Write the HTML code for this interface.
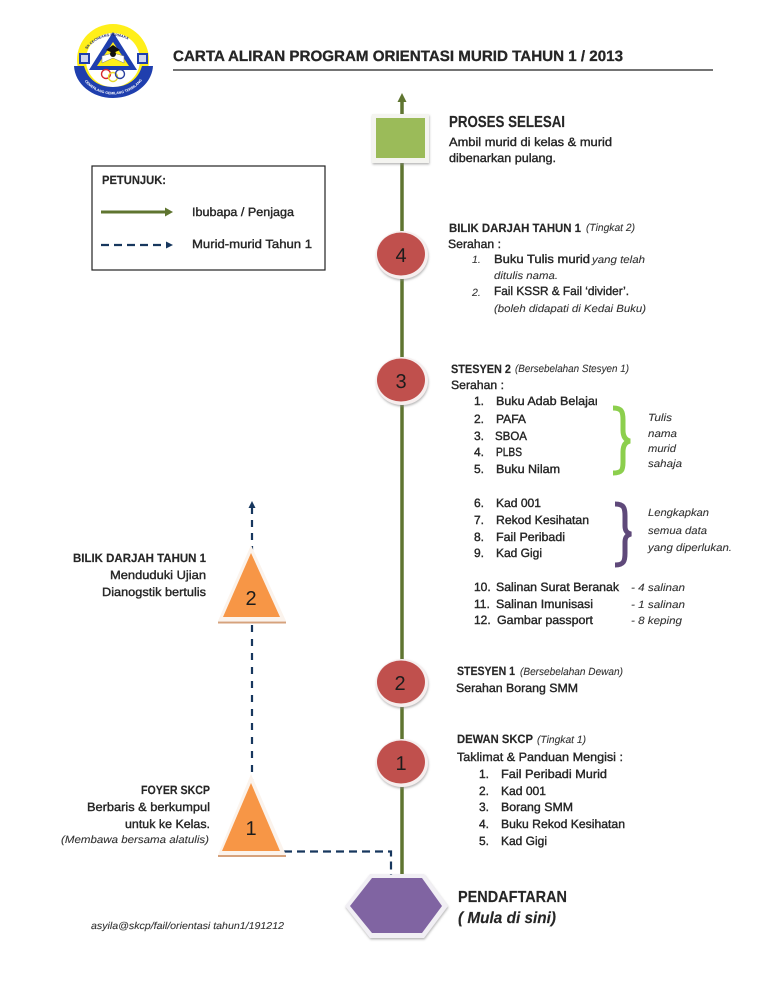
<!DOCTYPE html>
<html lang="ms">
<head>
<meta charset="utf-8">
<title>Carta Aliran Program Orientasi Murid Tahun 1 / 2013</title>
<style>
html,body{margin:0;padding:0;background:#fff;width:768px;height:994px;overflow:hidden}
svg{display:block;filter:blur(.3px)}
text{font-family:"Liberation Sans",sans-serif;fill:#262626;text-rendering:geometricPrecision}
.n{font-size:12px;stroke:#262626;stroke-width:.38px}
.b{font-size:12px;font-weight:bold;stroke:#262626;stroke-width:.15px}
.i{font-size:10.5px;font-style:italic;fill:#333;stroke:#333;stroke-width:.1px}
.h{font-size:16px;font-weight:bold;stroke:#262626;stroke-width:.15px}
.d{font-size:20px;text-anchor:middle;fill:#1c1c1c}
</style>
</head>
<body>
<svg width="768" height="994" viewBox="0 0 768 994" xmlns="http://www.w3.org/2000/svg">
<defs>
<filter id="sh" x="-20%" y="-20%" width="140%" height="140%"><feDropShadow dx="0.5" dy="1.5" stdDeviation="1" flood-color="#888" flood-opacity=".6"/></filter>
<path id="ltop" d="M82 60A32 32 0 0 1 144 60"/>
<path id="lbot" d="M79 70A35 32 0 0 0 147 70"/>
</defs>
<rect width="768" height="994" fill="#fff"/>

<!-- logo -->
<circle cx="113" cy="60" r="36" fill="#ffef1a"/>
<circle cx="113" cy="60" r="27" fill="#fff"/>
<path d="M74 66L84 66C88 80 99 87 113 87C127 87 138 80 142 66L153 66C152 84 134 98 113 98C92 98 75 84 74 66Z" fill="#1f3fae"/>
<rect x="79" y="53" width="11" height="11" fill="#1f3fae"/>
<rect x="137" y="53" width="11" height="11" fill="#1f3fae"/>
<rect x="81" y="55" width="7" height="7" fill="#cfd6ef"/>
<rect x="139" y="55" width="7" height="7" fill="#cfd6ef"/>
<polygon points="113,32 137,70 89,70" fill="#1f3fae"/>
<polygon points="113,42 129,66 97,66" fill="#ffef1a"/>
<path d="M102 63L113 58L124 63L124 56L113 53L102 56Z" fill="#fff" stroke="#777" stroke-width=".5"/>
<polygon points="113,45 120,50 113,53 106,50" fill="#111"/>
<circle cx="113" cy="54" r="3" fill="#111"/>
<circle cx="106" cy="74" r="4.5" fill="none" stroke="#d8272d" stroke-width="1.4"/>
<circle cx="113" cy="77" r="4.5" fill="none" stroke="#e8d92a" stroke-width="1.4"/>
<circle cx="120" cy="74" r="4.5" fill="none" stroke="#2a3f9f" stroke-width="1.4"/>
<text font-size="3.6" font-weight="bold" style="fill:#1f2a70"><textPath href="#ltop" startOffset="14%">SK CECHEANG PERMAKA</textPath></text>
<text font-size="3.6" font-weight="bold" style="fill:#fff"><textPath href="#lbot" startOffset="14%">CEMERLANG GEMILANG TERBILANG</textPath></text>

<!-- title -->
<text x="173" y="61" class="b" style="font-size:15px;stroke-width:.3px" textLength="450" lengthAdjust="spacingAndGlyphs">CARTA ALIRAN PROGRAM ORIENTASI MURID TAHUN 1 / 2013</text>
<line x1="173" y1="70" x2="713" y2="70" stroke="#222" stroke-width="1.2"/>

<!-- legend -->
<rect x="92" y="166" width="233" height="104" fill="#fff" stroke="#222" stroke-width="1.2"/>
<text x="102" y="184" class="b" textLength="64" lengthAdjust="spacingAndGlyphs">PETUNJUK:</text>
<line x1="101" y1="212" x2="166" y2="212" stroke="#5f7530" stroke-width="3"/>
<polygon points="165,207.500 173,212 165,216.500" fill="#5f7530"/>
<text x="192" y="216" class="n" textLength="102" lengthAdjust="spacingAndGlyphs">Ibubapa / Penjaga</text>
<line x1="101" y1="245" x2="162" y2="245" stroke="#17375e" stroke-width="2.2" stroke-dasharray="8 5"/>
<polygon points="166,241.500 173,245 166,248.500" fill="#17375e"/>
<text x="192" y="248" class="n" textLength="120" lengthAdjust="spacingAndGlyphs">Murid-murid Tahun 1</text>

<!-- main line -->
<line x1="402" y1="100" x2="402" y2="880" stroke="#5f7530" stroke-width="3.500"/>
<polygon points="402,93 406.500,102 397.500,102" fill="#5f7530"/>

<!-- square -->
<rect x="372" y="114" width="57" height="49" fill="#f4f4f0" filter="url(#sh)"/>
<rect x="376" y="118" width="49" height="40" fill="#9bbb59"/>

<!-- circles -->
<g filter="url(#sh)">
<ellipse cx="402" cy="255" rx="26" ry="24" fill="#f6eeee"/>
<ellipse cx="402" cy="381" rx="26" ry="24" fill="#f6eeee"/>
<ellipse cx="402" cy="683" rx="26" ry="24" fill="#f6eeee"/>
<ellipse cx="402" cy="763" rx="26" ry="24" fill="#f6eeee"/>
</g>
<ellipse cx="401" cy="254" rx="24" ry="21.500" fill="#c0504d"/>
<ellipse cx="401" cy="380" rx="24" ry="21.500" fill="#c0504d"/>
<ellipse cx="401" cy="682" rx="24" ry="21.500" fill="#c0504d"/>
<ellipse cx="401" cy="762" rx="24" ry="21.500" fill="#c0504d"/>
<text x="401" y="262" class="d">4</text>
<text x="401" y="388" class="d">3</text>
<text x="400" y="690" class="d">2</text>
<text x="401" y="770" class="d">1</text>

<!-- hexagon -->
<polygon points="345,906 370,874 424,874 448,906 424,938 370,938" fill="#f1eff4" filter="url(#sh)"/>
<polygon points="350,906 372,878 422,878 442,906 422,933 372,933" fill="#8064a2"/>

<!-- dashed flow -->
<line x1="252" y1="507" x2="252" y2="553" stroke="#17375e" stroke-width="2.2" stroke-dasharray="7 6"/>
<polygon points="252,501 255.500,508 248.500,508" fill="#17375e"/>
<line x1="252" y1="625" x2="252" y2="780" stroke="#17375e" stroke-width="2.2" stroke-dasharray="7 7"/>
<path d="M284 851.500H391V875" fill="none" stroke="#17375e" stroke-width="2.2" stroke-dasharray="8 5"/>

<!-- triangles -->
<polygon points="251,545 218,621 286,621" fill="#fbf3ec"/>
<polygon points="251,553 223,617 280,617" fill="#f79646"/>
<line x1="218" y1="622.500" x2="286" y2="622.500" stroke="#d6a27c" stroke-width="2"/>
<text x="251" y="605" class="d">2</text>
<polygon points="251,774 218,855 286,855" fill="#fbf3ec"/>
<polygon points="251,783 222,851 280,851" fill="#f79646"/>
<line x1="218" y1="856" x2="286" y2="856" stroke="#d6a27c" stroke-width="2"/>
<text x="251" y="835" class="d">1</text>

<!-- braces -->
<path d="M613 408C622 408 623 412 623 420V430C623 436 625 440 630 441C625 442 623 446 623 452V462C623 470 622 473 613 473" fill="none" stroke="#8ccf4d" stroke-width="5"/>
<path d="M615 504C624 504 625 508 625 516V526C625 531 627 533 631 534C627 535 625 537 625 542V553C625 561 624 565 615 565" fill="none" stroke="#5f497a" stroke-width="5"/>

<!-- right column top -->
<text x="449" y="127" class="h" textLength="116" lengthAdjust="spacingAndGlyphs">PROSES SELESAI</text>
<text x="449" y="146" class="n" textLength="163" lengthAdjust="spacingAndGlyphs">Ambil murid di kelas &amp; murid</text>
<text x="449" y="162" class="n" textLength="107" lengthAdjust="spacingAndGlyphs">dibenarkan pulang.</text>

<text x="449" y="232" class="b" textLength="132" lengthAdjust="spacingAndGlyphs">BILIK DARJAH TAHUN 1</text>
<text x="586" y="231" class="i" textLength="49" lengthAdjust="spacingAndGlyphs">(Tingkat 2)</text>
<text x="448" y="248" class="n" textLength="53" lengthAdjust="spacingAndGlyphs">Serahan :</text>
<text x="472" y="263" class="i">1.</text>
<text x="494" y="263" class="n" textLength="96" lengthAdjust="spacingAndGlyphs">Buku Tulis murid</text>
<text x="592" y="263" class="i" textLength="53" lengthAdjust="spacingAndGlyphs">yang telah</text>
<text x="494" y="279" class="i" textLength="64" lengthAdjust="spacingAndGlyphs">ditulis nama.</text>
<text x="472" y="296" class="i">2.</text>
<text x="494" y="295" class="n" textLength="135" lengthAdjust="spacingAndGlyphs">Fail KSSR &amp; Fail ‘divider’.</text>
<text x="494" y="312" class="i" textLength="152" lengthAdjust="spacingAndGlyphs">(boleh didapati di Kedai Buku)</text>

<!-- stesyen 2 -->
<text x="451" y="373" class="b" textLength="60" lengthAdjust="spacingAndGlyphs">STESYEN 2</text>
<text x="515" y="372" class="i" textLength="114" lengthAdjust="spacingAndGlyphs">(Bersebelahan Stesyen 1)</text>
<text x="451" y="389" class="n" textLength="53" lengthAdjust="spacingAndGlyphs">Serahan :</text>
<text x="474" y="405" class="n">1.</text>
<text x="496" y="405" class="n" textLength="103" lengthAdjust="spacingAndGlyphs">Buku Adab Belajar</text>
<rect x="597" y="394" width="6" height="14" fill="#fff"/>
<text x="474" y="423" class="n">2.</text>
<text x="496" y="423" class="n" textLength="30" lengthAdjust="spacingAndGlyphs">PAFA</text>
<text x="474" y="440" class="n">3.</text>
<text x="495" y="440" class="n" textLength="32" lengthAdjust="spacingAndGlyphs">SBOA</text>
<text x="474" y="456" class="n">4.</text>
<text x="496" y="456" class="n" textLength="26" lengthAdjust="spacingAndGlyphs">PLBS</text>
<text x="474" y="473" class="n">5.</text>
<text x="496" y="473" class="n" textLength="64" lengthAdjust="spacingAndGlyphs">Buku Nilam</text>
<text x="474" y="507" class="n">6.</text>
<text x="496" y="507" class="n" textLength="45" lengthAdjust="spacingAndGlyphs">Kad 001</text>
<text x="474" y="524" class="n">7.</text>
<text x="496" y="524" class="n" textLength="93" lengthAdjust="spacingAndGlyphs">Rekod Kesihatan</text>
<text x="474" y="541" class="n">8.</text>
<text x="496" y="541" class="n" textLength="69" lengthAdjust="spacingAndGlyphs">Fail Peribadi</text>
<text x="474" y="557" class="n">9.</text>
<text x="496" y="557" class="n" textLength="46" lengthAdjust="spacingAndGlyphs">Kad Gigi</text>
<text x="474" y="591" class="n">10.</text>
<text x="496" y="591" class="n" textLength="123" lengthAdjust="spacingAndGlyphs">Salinan Surat Beranak</text>
<text x="474" y="608" class="n">11.</text>
<text x="496" y="608" class="n" textLength="97" lengthAdjust="spacingAndGlyphs">Salinan Imunisasi</text>
<text x="474" y="624" class="n">12.</text>
<text x="497" y="624" class="n" textLength="96" lengthAdjust="spacingAndGlyphs">Gambar passport</text>
<text x="631" y="591" class="i" textLength="54" lengthAdjust="spacingAndGlyphs">- 4 salinan</text>
<text x="631" y="608" class="i" textLength="54" lengthAdjust="spacingAndGlyphs">- 1 salinan</text>
<text x="631" y="624" class="i" textLength="51" lengthAdjust="spacingAndGlyphs">- 8 keping</text>
<text x="648" y="421" class="i" textLength="24" lengthAdjust="spacingAndGlyphs">Tulis</text>
<text x="648" y="437" class="i" textLength="29" lengthAdjust="spacingAndGlyphs">nama</text>
<text x="648" y="452" class="i" textLength="28" lengthAdjust="spacingAndGlyphs">murid</text>
<text x="648" y="467" class="i" textLength="34" lengthAdjust="spacingAndGlyphs">sahaja</text>
<text x="648" y="516" class="i" textLength="61" lengthAdjust="spacingAndGlyphs">Lengkapkan</text>
<text x="648" y="534" class="i" textLength="59" lengthAdjust="spacingAndGlyphs">semua data</text>
<text x="648" y="551" class="i" textLength="84" lengthAdjust="spacingAndGlyphs">yang diperlukan.</text>

<!-- stesyen 1 -->
<text x="457" y="675" class="b" textLength="58" lengthAdjust="spacingAndGlyphs">STESYEN 1</text>
<text x="520" y="675" class="i" textLength="103" lengthAdjust="spacingAndGlyphs">(Bersebelahan Dewan)</text>
<text x="456" y="692" class="n" textLength="122" lengthAdjust="spacingAndGlyphs">Serahan Borang SMM</text>

<!-- dewan -->
<text x="457" y="743" class="b" textLength="76" lengthAdjust="spacingAndGlyphs">DEWAN SKCP</text>
<text x="537" y="743" class="i" textLength="49" lengthAdjust="spacingAndGlyphs">(Tingkat 1)</text>
<text x="457" y="761" class="n" textLength="166" lengthAdjust="spacingAndGlyphs">Taklimat &amp; Panduan Mengisi :</text>
<text x="479" y="778" class="n">1.</text>
<text x="501" y="778" class="n" textLength="106" lengthAdjust="spacingAndGlyphs">Fail Peribadi Murid</text>
<text x="479" y="795" class="n">2.</text>
<text x="501" y="795" class="n" textLength="45" lengthAdjust="spacingAndGlyphs">Kad 001</text>
<text x="479" y="811" class="n">3.</text>
<text x="501" y="811" class="n" textLength="72" lengthAdjust="spacingAndGlyphs">Borang SMM</text>
<text x="479" y="828" class="n">4.</text>
<text x="501" y="828" class="n" textLength="124" lengthAdjust="spacingAndGlyphs">Buku Rekod Kesihatan</text>
<text x="479" y="845" class="n">5.</text>
<text x="501" y="845" class="n" textLength="46" lengthAdjust="spacingAndGlyphs">Kad Gigi</text>

<text x="458" y="902" class="h" textLength="109" lengthAdjust="spacingAndGlyphs">PENDAFTARAN</text>
<text x="458" y="923" class="h" style="font-style:italic" textLength="98" lengthAdjust="spacingAndGlyphs">( Mula di sini)</text>

<!-- left labels -->
<text x="73" y="562" class="b" textLength="133" lengthAdjust="spacingAndGlyphs">BILIK DARJAH TAHUN 1</text>
<text x="110" y="579" class="n" textLength="96" lengthAdjust="spacingAndGlyphs">Menduduki Ujian</text>
<text x="102" y="596" class="n" textLength="104" lengthAdjust="spacingAndGlyphs">Dianogstik bertulis</text>
<text x="141" y="794" class="b" textLength="69" lengthAdjust="spacingAndGlyphs">FOYER SKCP</text>
<text x="87" y="811" class="n" textLength="123" lengthAdjust="spacingAndGlyphs">Berbaris &amp; berkumpul</text>
<text x="125" y="828" class="n" textLength="85" lengthAdjust="spacingAndGlyphs">untuk ke Kelas.</text>
<text x="61" y="843" class="i" textLength="148" lengthAdjust="spacingAndGlyphs">(Membawa bersama alatulis)</text>
<text x="91" y="929" class="i" style="font-size:10px" textLength="193" lengthAdjust="spacingAndGlyphs">asyila@skcp/fail/orientasi tahun1/191212</text>
</svg>
</body>
</html>
